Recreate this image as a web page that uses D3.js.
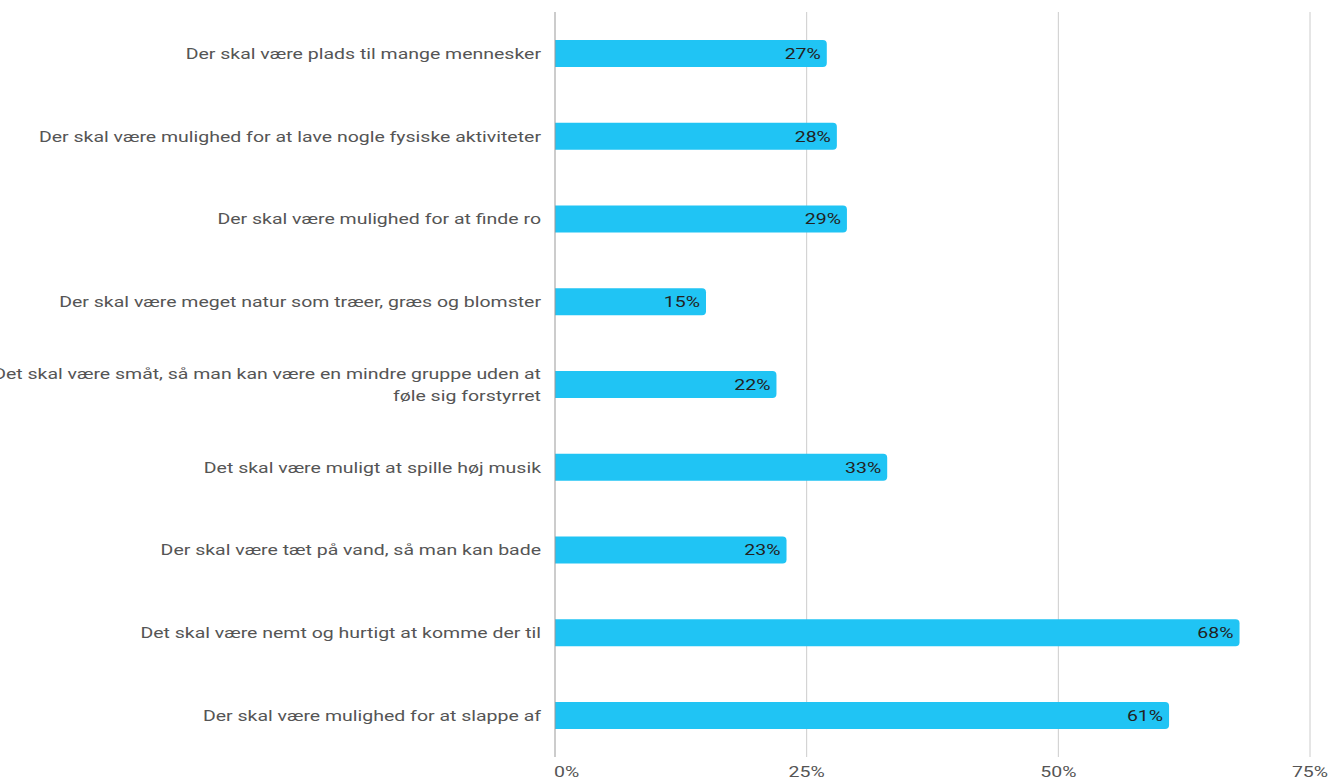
<!DOCTYPE html>
<html>
<head>
<meta charset="utf-8">
<script src="https://cdn.jsdelivr.net/npm/d3@7"></script>
<style>
  body { margin: 0; background: #fff; overflow: hidden; }
  svg { display: block; font-family: Roboto, "Noto Sans", sans-serif; }
</style>
</head>
<body>
<script>
// categories, top to bottom
var categories = [
    "Der skal være plads til mange mennesker",
    "Der skal være mulighed for at lave nogle fysiske aktiviteter",
    "Der skal være mulighed for at finde ro",
    "Der skal være meget natur som træer, græs og blomster",
    "Det skal være småt, så man kan være en mindre gruppe uden at|føle sig forstyrret",
    "Det skal være muligt at spille høj musik",
    "Der skal være tæt på vand, så man kan bade",
    "Det skal være nemt og hurtigt at komme der til",
    "Der skal være mulighed for at slappe af"
];
var values = [27, 28, 29, 15, 22, 33, 23, 68, 61];
var tickValues = [0, 25, 50, 75];

var width = 1328, height = 780;
var plot = {left: 555, right: 1310, top: 12, bottom: 757};
var fontSize = 15, stretch = 1.3;   // text in the picture is drawn wide

var svg = d3.select("body").append("svg")
    .attr("width", width)
    .attr("height", height);

var x = d3.scaleLinear()
    .domain([0, 75])
    .range([plot.left, plot.right]);

var y = d3.scaleBand()
    .domain(categories)
    .range([plot.top, plot.bottom])
    .paddingInner(0.674)
    .paddingOuter(0.337);

function wide(px, py) {
    return "translate(" + px + "," + py + ") scale(" + stretch + ",1)";
}

// gridlines
svg.append("g")
    .selectAll("line")
    .data(tickValues.slice(1))
    .enter().append("line")
    .attr("x1", function(d) { return x(d); })
    .attr("x2", function(d) { return x(d); })
    .attr("y1", plot.top)
    .attr("y2", plot.bottom)
    .attr("stroke", "#cccccc")
    .attr("stroke-width", 1);

// x tick labels (first one sits to the right of the zero line)
svg.append("g")
    .selectAll("text")
    .data(tickValues)
    .enter().append("text")
    .attr("transform", function(d, i) { return wide(i === 0 ? x(d) - 1 : x(d), 777); })
    .attr("text-anchor", function(d, i) { return i === 0 ? "start" : "middle"; })
    .attr("font-size", fontSize)
    .attr("fill", "#555")
    .text(function(d) { return d + "%"; });

// bars, rounded on the right end only
var r = 4;
svg.append("g")
    .selectAll("path")
    .data(values)
    .enter().append("path")
    .attr("fill", "#20c4f4")
    .attr("d", function(d, i) {
        var x0 = x(0), x1 = x(d), y0 = y(categories[i]), h = y.bandwidth();
        return "M" + x0 + "," + y0 +
            "H" + (x1 - r) +
            "Q" + x1 + "," + y0 + " " + x1 + "," + (y0 + r) +
            "V" + (y0 + h - r) +
            "Q" + x1 + "," + (y0 + h) + " " + (x1 - r) + "," + (y0 + h) +
            "H" + x0 + "Z";
    });

// value labels inside bar end
svg.append("g")
    .selectAll("text")
    .data(values)
    .enter().append("text")
    .attr("transform", function(d, i) {
        return wide(x(d) - 6, y(categories[i]) + y.bandwidth() / 2);
    })
    .attr("dy", "0.36em")
    .attr("text-anchor", "end")
    .attr("font-size", fontSize)
    .attr("fill", "#222")
    .text(function(d) { return d + "%"; });

// zero axis line
svg.append("line")
    .attr("x1", x(0)).attr("x2", x(0))
    .attr("y1", plot.top).attr("y2", plot.bottom)
    .attr("stroke", "#999")
    .attr("stroke-width", 1);

// category labels (| splits a wrapped label)
var labels = svg.append("g")
    .selectAll("text")
    .data(categories)
    .enter().append("text")
    .attr("text-anchor", "end")
    .attr("font-size", fontSize)
    .attr("fill", "#555")
    .attr("transform", function(d) {
        return wide(plot.left - 14, y(d) + y.bandwidth() / 2);
    });

labels.each(function(d) {
    var lines = d.split("|");
    var t = d3.select(this);
    var lh = 22;
    lines.forEach(function(line, k) {
        t.append("tspan")
            .attr("x", 0)
            .attr("dy", k === 0 ? (0.36 * fontSize - (lines.length - 1) * lh / 2) : lh)
            .text(line);
    });
});
</script>
</body>
</html>
